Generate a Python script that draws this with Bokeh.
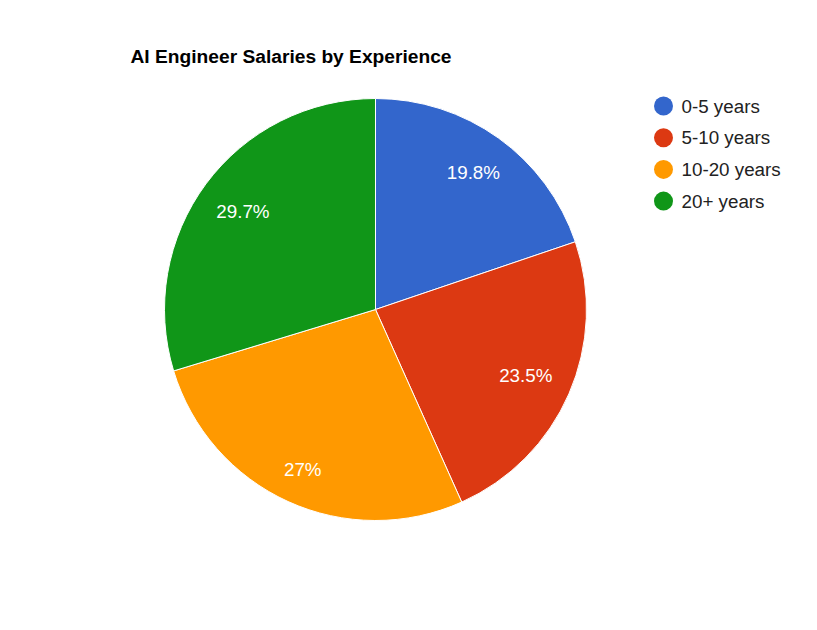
import math
from bokeh.plotting import figure
from bokeh.models import Range1d, ColumnDataSource
from bokeh.core.properties import value
from bokeh.embed import file_html
from bokeh.resources import INLINE

title = "AI Engineer Salaries by Experience"
categories = ["0-5 years", "5-10 years", "10-20 years", "20+ years"]
values = [19.8, 23.5, 27.0, 29.7]
colors = ["#3366cc", "#dc3912", "#ff9900", "#109618"]

W, H = 801, 614
FONT = "Liberation Sans"

def py(Y):
    return H - Y

def px(X):
    return X

cx, cy, R = px(375), py(309), 211
# label distance from centre for each slice (layout)
label_dist = [168, 164, 175.5, 165]

total = sum(values)
starts, ends, lx, ly, labels = [], [], [], [], []
cum = 0.0
for v, d in zip(values, label_dist):
    a0 = math.pi / 2 - 2 * math.pi * cum / total
    cum += v
    a1 = math.pi / 2 - 2 * math.pi * cum / total
    starts.append(a0)
    ends.append(a1)
    mid = (a0 + a1) / 2
    lx.append(cx + d * math.cos(mid))
    ly.append(cy + d * math.sin(mid))
    labels.append(f"{v / total * 100:.3g}%")

src = ColumnDataSource(dict(start=starts, end=ends, color=colors, lx=lx, ly=ly, label=labels))

p = figure(width=W, height=H, output_backend="svg", toolbar_location=None,
           x_range=Range1d(0, W), y_range=Range1d(0, H),
           x_axis_location=None, y_axis_location=None, min_border=0)
p.outline_line_color = None
p.xgrid.visible = False
p.ygrid.visible = False

p.wedge(x=cx, y=cy, radius=R, start_angle="start", end_angle="end", direction="clock",
        fill_color="color", line_color="white", line_width=1, source=src)

p.text(x="lx", y="ly", text="label", source=src, text_color="white",
       text_font=value(FONT), text_font_size="18.8px", text_align="center", text_baseline="middle")

p.text(x=[px(130)], y=[py(55.5)], text=[title], text_color="#000000",
       text_font=value(FONT), text_font_size="19.2px", text_font_style="bold",
       text_align="left", text_baseline="middle")

leg_y = [py(105.5 + 31.7 * i) for i in range(len(categories))]
p.scatter(x=[px(663)] * len(categories), y=leg_y, size=19, marker="circle",
          fill_color=colors, line_color=None)
p.text(x=[px(681)] * len(categories), y=leg_y, text=categories, text_color="#222222",
       text_font=value(FONT), text_font_size="18.8px", text_align="left", text_baseline="middle")

open("out.html", "w").write(file_html(p, INLINE))
